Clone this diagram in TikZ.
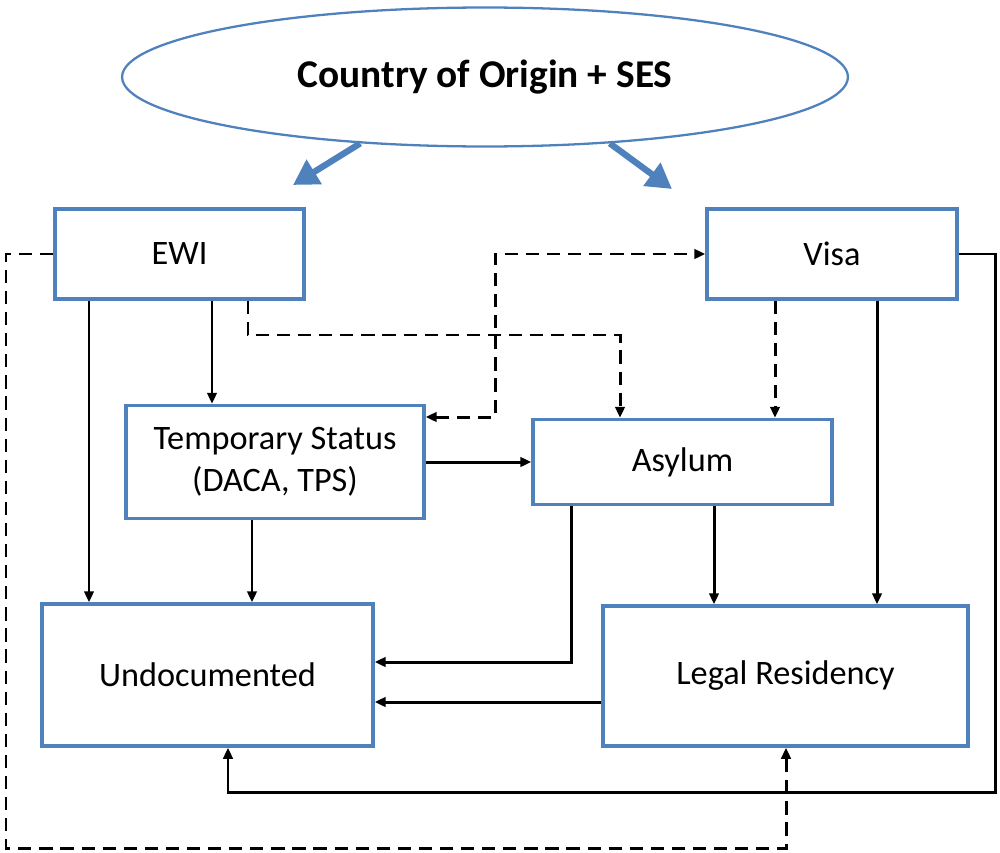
\documentclass[tikz,border=0pt]{standalone}
\usepackage{fontspec}
\setmainfont{Carlito}
\usetikzlibrary{arrows.meta,shapes.geometric}
\definecolor{boxblue}{RGB}{79,129,189}
\tikzset{>/.tip={Triangle[length=0.22cm,width=0.19cm]},
  box/.style={draw=boxblue, line width=2pt, inner sep=0pt, align=center, font=\fontsize{19.5}{24}\selectfont},
  link/.style={line width=1.7pt, ->},
  dashlink/.style={link, dash pattern=on 7.5pt off 4.5pt},
  bigarrow/.style={draw=boxblue, line width=3.6pt, -{Triangle[length=0.5cm,width=0.55cm]}}}

\begin{document}
\begin{tikzpicture}[x=0.02cm, y=-0.02cm]
\useasboundingbox (0,0) rectangle (1000,852);
\node[box, ellipse, line width=1.3pt, minimum width=14.52cm, minimum height=2.78cm, font=\bfseries\fontsize{22.4}{27}\selectfont] (origin) at (485,77) {Country of Origin + SES};
\node[box, minimum width=4.98cm, minimum height=1.8cm] (ewi)    at (179.5,254) {EWI};
\node[box, minimum width=5cm,    minimum height=1.8cm] (visa)   at (832,254)   {Visa};
\node[box, minimum width=5.96cm, minimum height=2.26cm] (temp)  at (275,462)   {Temporary Status\\(DACA, TPS)};
\node[box, minimum width=5.98cm, minimum height=1.7cm] (asylum) at (682.5,462) {Asylum};
\node[box, minimum width=6.62cm, minimum height=2.84cm] (undoc) at (207.5,675) {Undocumented};
\node[box, minimum width=7.3cm,  minimum height=2.8cm] (legal)  at (785.5,676) {Legal Residency};
\coordinate (ewitip)  at (293,185);
\coordinate (visatip) at (672,189);
\draw[bigarrow] (origin.208) -- (ewitip);
\draw[bigarrow] (origin.332) -- (visatip);
\foreach \x/\a/\b in {89/ewi/undoc, 212/ewi/temp, 252/temp/undoc, 714/asylum/legal, 877/visa/legal}
{
  \draw[link] (\x,0 |- \a.south) -- (\x,0 |- \b.north);
}
\draw[link] (temp.east) -- (asylum.west);
\draw[link] (asylum.south -| 571,0) |- (undoc.east |- 0,662);
\draw[link] (legal.west |- 0,702) -- (undoc.east |- 0,702);
\draw[link] (visa.east) -| (995,792) -| (undoc.south -| 228,0);
\draw[dashlink] (ewi.south -| 248,0) |- (620,335) -- (asylum.north -| 620,0);
\draw[dashlink, <->] (temp.east |- 0,417) -| (495,254) -- (visa.west);
\draw[dashlink] (visa.south -| 775,0) -- (asylum.north -| 775,0);
\draw[dashlink] (ewi.west) -| (6,848) -| (legal.south -| 786,0);
\end{tikzpicture}
\end{document}
